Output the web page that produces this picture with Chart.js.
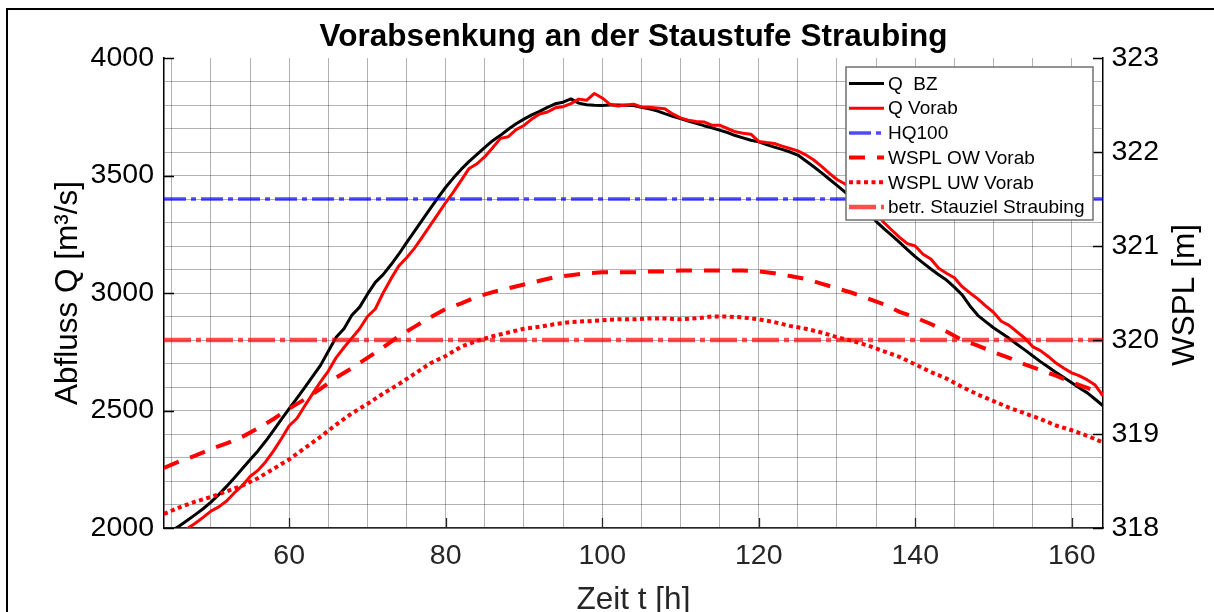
<!DOCTYPE html>
<html>
<head>
<meta charset="utf-8">
<script src="https://cdn.jsdelivr.net/npm/chart.js@4.4.1/dist/chart.umd.min.js"></script>
<style>
html, body { margin: 0; padding: 0; background: #fff; }
#wrap { width: 1214px; height: 612px; }
</style>
</head>
<body>
<div id="wrap"><canvas id="chart" width="1214" height="612"></canvas></div>
<script>
// time axis (hours)
const hoursQ = [44,45,46,47,48,49,50,51,52,53,54,55,56,57,58,59,60,61,62,63,
  64,65,66,67,68,69,70,71,72,73,74,75,76,77,78,79,80,81,82,83,
  84,85,86,87,88,89,90,91,92,93,94,95,96,97,98,99,100,101,102,103,
  104,105,106,107,108,109,110,111,112,113,114,115,116,117,118,119,120,121,122,123,
  124,125,126,127,128,129,130,131,132,133,134,135,136,137,138,139,140,141,142,143,
  144,145,146,147,148,149,150,151,152,153,154,155,156,157,158,159,160,161,162,163,164];

// discharge [m3/s]
const qBZ = [1965,1988,2010,2033,2057,2082,2110,2142,2177,2214,
  2252,2290,2328,2370,2415,2462,2508,2553,2598,2645,
  2692,2752,2812,2848,2905,2940,2995,3045,3078,3120,
  3165,3214,3262,3310,3358,3405,3450,3490,3527,3560,
  3590,3620,3648,3671,3697,3720,3740,3758,3773,3790,
  3805,3812,3826,3808,3801,3799,3798,3800,3800,3799,
  3798,3790,3784,3775,3763,3752,3742,3732,3722,3712,
  3703,3693,3683,3670,3660,3650,3643,3632,3621,3611,
  3600,3587,3563,3538,3512,3485,3458,3430,3403,3372,
  3340,3305,3274,3245,3215,3185,3155,3128,3102,3078,
  3055,3025,2992,2945,2905,2878,2852,2830,2807,2782,
  2758,2733,2708,2685,2662,2640,2618,2596,2575,2548,
  2520];

const qVorab = [1925,1950,1975,1998,2020,2045,2072,2090,2115,2150,
  2180,2219,2245,2282,2328,2380,2435,2467,2520,2572,
  2622,2668,2725,2768,2808,2848,2900,2932,3000,3060,
  3115,3150,3190,3238,3287,3336,3385,3430,3480,3530,
  3550,3580,3618,3658,3665,3695,3713,3740,3762,3770,
  3788,3793,3806,3825,3820,3849,3830,3803,3796,3800,
  3803,3792,3790,3787,3784,3762,3745,3735,3730,3728,
  3714,3714,3700,3686,3680,3676,3645,3640,3636,3625,
  3615,3605,3588,3567,3540,3510,3483,3465,3440,3410,
  3380,3343,3300,3268,3237,3210,3200,3165,3145,3105,
  3084,3065,3027,3000,2975,2945,2918,2880,2862,2835,
  2808,2772,2755,2730,2702,2680,2660,2647,2630,2608,
  2562];

const hq100 = 3400;

// water levels [m]
const hoursW = [44,46,48,50,52,54,56,58,60,62,64,66,68,70,72,74,76,78,80,82,
  84,86,88,90,92,94,96,98,100,102,104,106,108,110,112,114,116,118,120,122,
  124,126,128,130,132,134,136,138,140,142,144,146,148,150,152,154,156,158,160,162,164];

const wsplOW = [318.64,318.71,318.77,318.84,318.90,318.97,319.06,319.16,319.27,319.37,
  319.48,319.60,319.70,319.81,319.92,320.04,320.14,320.24,320.33,320.39,
  320.46,320.51,320.55,320.59,320.63,320.67,320.69,320.71,320.72,320.72,
  320.72,320.73,320.73,320.74,320.74,320.74,320.74,320.74,320.73,320.71,
  320.68,320.65,320.60,320.55,320.50,320.44,320.38,320.30,320.24,320.17,
  320.09,320.00,319.94,319.87,319.81,319.74,319.68,319.62,319.55,319.49,
  319.42];

const wsplUW = [318.15,318.22,318.28,318.33,318.39,318.45,318.53,318.63,318.73,318.85,
  318.97,319.10,319.22,319.32,319.43,319.53,319.64,319.75,319.83,319.93,
  319.99,320.04,320.08,320.12,320.14,320.17,320.19,320.20,320.21,320.22,
  320.22,320.23,320.23,320.22,320.23,320.25,320.25,320.24,320.22,320.19,
  320.15,320.12,320.08,320.03,319.99,319.94,319.88,319.82,319.74,319.66,
  319.59,319.50,319.42,319.35,319.28,319.22,319.16,319.09,319.04,318.98,
  318.91];

const stauziel = 320.0;

// ticks and grid
const xTicks = [60,80,100,120,140,160];
const xGrid = [45,50,55,60,65,70,75,80,85,90,95,100,105,110,115,120,125,130,135,140,145,150,155,160];
const qTicks = [2000,2500,3000,3500,4000];
const qGrid = [2000,2100,2200,2300,2400,2500,2600,2700,2800,2900,3000,3100,3200,3300,3400,3500,3600,3700,3800,3900,4000];
const wTicks = [318,319,320,321,322,323];

const xMin = 44, xMax = 164;
const titleText = 'Vorabsenkung an der Staustufe Straubing';
const xTitle = 'Zeit t [h]';
const qTitle = 'Abfluss Q [m³/s]';
const wTitle = 'WSPL [m]';

const FONT = '"Liberation Sans", Arial, Helvetica, sans-serif';
Chart.defaults.font.family = FONT;

function pairs(xs, ys) { return xs.map((t, i) => ({ x: t, y: ys[i] })); }

const data = {
  datasets: [
    { label: 'Q  BZ', data: pairs(hoursQ, qBZ), yAxisID: 'y', borderColor: '#000000', borderWidth: 3, borderJoinStyle: 'round', order: 6 },
    { label: 'Q Vorab', data: pairs(hoursQ, qVorab), yAxisID: 'y', borderColor: '#ff0000', borderWidth: 3, borderJoinStyle: 'round', order: 5 },
    { label: 'HQ100', data: [{ x: xMin, y: hq100 }, { x: xMax, y: hq100 }], yAxisID: 'y', borderColor: 'rgba(0,0,255,0.7)', borderWidth: 3.5, borderDash: [22, 5, 5, 5], order: 4 },
    { label: 'WSPL OW Vorab', data: pairs(hoursW, wsplOW), yAxisID: 'y1', borderColor: '#ff0000', borderWidth: 4, borderDash: [16, 12], order: 3 },
    { label: 'WSPL UW Vorab', data: pairs(hoursW, wsplUW), yAxisID: 'y1', borderColor: '#ff0000', borderWidth: 4, borderDash: [4, 3.5], order: 2 },
    { label: 'betr. Stauziel Straubing', data: [{ x: xMin, y: stauziel }, { x: xMax, y: stauziel }], yAxisID: 'y1', borderColor: 'rgba(255,0,0,0.7)', borderWidth: 4.5, borderDash: [27, 5, 5, 5], order: 1 }
  ]
};
data.datasets.forEach(d => { d.pointRadius = 0; d.tension = 0; d.fill = false; d.clip = 0; });

const GRID = 'rgba(0,0,0,0.3)';

// MATLAB-like decorations: inside ticks, legend, right label, figure frame
const decor = {
  id: 'decor',
  afterDraw(chart) {
    const ctx = chart.ctx, a = chart.chartArea;
    const sx = chart.scales.x, sy = chart.scales.y, sy1 = chart.scales.y1;
    ctx.save();
    ctx.lineWidth = 1.3;
    ctx.strokeStyle = '#262626';
    ctx.beginPath();
    xTicks.forEach(v => {
      const px = Math.round(sx.getPixelForValue(v)) + 0.5;
      ctx.moveTo(px, a.bottom); ctx.lineTo(px, a.bottom - 10);
    });
    ctx.stroke();
    ctx.strokeStyle = '#000';
    ctx.beginPath();
    qTicks.forEach(v => {
      const py = Math.round(sy.getPixelForValue(v)) + 0.5;
      ctx.moveTo(a.left, py); ctx.lineTo(a.left + 10, py);
    });
    wTicks.forEach(v => {
      const py = Math.round(sy1.getPixelForValue(v)) + 0.5;
      ctx.moveTo(a.right, py); ctx.lineTo(a.right - 10, py);
    });
    ctx.stroke();

    // right axis title (reads bottom to top)
    ctx.save();
    ctx.font = '31.5px ' + FONT;
    ctx.fillStyle = '#000';
    ctx.textAlign = 'center';
    ctx.textBaseline = 'middle';
    ctx.translate(1185, (a.top + a.bottom) / 2 + 2);
    ctx.rotate(-Math.PI / 2);
    ctx.fillText(wTitle, 0, 0);
    ctx.restore();

    // legend box
    const lx = 846, ly = 67, lw = 247, lh = 153;
    ctx.fillStyle = '#fff';
    ctx.fillRect(lx, ly, lw, lh);
    ctx.strokeStyle = '#707070';
    ctx.lineWidth = 1.5;
    ctx.setLineDash([]);
    ctx.strokeRect(lx, ly, lw, lh);
    ctx.font = '19px ' + FONT;
    ctx.textAlign = 'left';
    ctx.textBaseline = 'middle';
    chart.data.datasets.forEach((d, i) => {
      const y = 83.5 + i * 24.7;
      ctx.strokeStyle = d.borderColor;
      ctx.lineWidth = d.borderWidth;
      ctx.setLineDash(d.borderDash || []);
      ctx.beginPath();
      ctx.moveTo(849, y); ctx.lineTo(884, y);
      ctx.stroke();
      ctx.setLineDash([]);
      ctx.fillStyle = '#000';
      ctx.fillText(d.label, 888, y + 1);
    });

    // figure frame
    ctx.strokeStyle = '#000';
    ctx.lineWidth = 2;
    ctx.strokeRect(7, 9, 1300, 700);
    ctx.restore();
  }
};

const ctx = document.getElementById('chart').getContext('2d');
new Chart(ctx, {
  type: 'line',
  data: data,
  options: {
    responsive: false,
    devicePixelRatio: 1,
    animation: false,
    events: [],
    layout: { padding: 0 },
    plugins: {
      legend: { display: false },
      tooltip: { enabled: false },
      title: {
        display: true,
        text: titleText,
        fullSize: false,
        color: '#000',
        font: { size: 31.5, weight: 'bold', lineHeight: 1.2 },
        padding: { top: 18.6, bottom: 1.6 }
      }
    },
    scales: {
      x: {
        type: 'linear',
        position: 'bottom',
        min: xMin,
        max: xMax,
        afterBuildTicks: s => { s.ticks = xGrid.map(v => ({ value: v })); },
        afterFit: s => { s.height = 84; },
        ticks: {
          autoSkip: false,
          maxRotation: 0,
          padding: 11,
          color: '#262626',
          font: { size: 28.5 },
          callback: v => (xTicks.includes(v) ? String(v) : '')
        },
        grid: { color: GRID, lineWidth: 1, drawTicks: false },
        border: { color: '#262626', width: 1.5 },
        title: { display: true, text: xTitle, color: '#262626', font: { size: 31.5, lineHeight: 0.75 }, padding: { top: 0, bottom: 0 } }
      },
      y: {
        type: 'linear',
        position: 'left',
        min: 2000,
        max: 4000,
        afterBuildTicks: s => { s.ticks = qGrid.map(v => ({ value: v })); },
        afterFit: s => { s.width = 164; },
        ticks: {
          autoSkip: false,
          padding: 10,
          color: '#000',
          font: { size: 28.5 },
          callback: v => (qTicks.includes(v) ? String(v) : '')
        },
        grid: {
          drawTicks: false,
          lineWidth: 1,
          color: c => (c.tick && c.tick.value === 4000 ? 'rgba(0,0,0,0)' : GRID)
        },
        border: { color: '#000', width: 1.5 },
        title: { display: true, text: qTitle, color: '#000', font: { size: 31.5, lineHeight: 1 }, padding: { top: 53, bottom: 0 } }
      },
      y1: {
        type: 'linear',
        position: 'right',
        min: 318,
        max: 323,
        afterBuildTicks: s => { s.ticks = wTicks.map(v => ({ value: v })); },
        afterFit: s => { s.width = 111; },
        ticks: {
          autoSkip: false,
          padding: 8.5,
          color: '#000',
          font: { size: 28.5 },
          callback: v => String(v)
        },
        grid: { display: false, drawTicks: false },
        border: { color: '#000', width: 1.5 }
      }
    }
  },
  plugins: [decor]
});
</script>
</body>
</html>
